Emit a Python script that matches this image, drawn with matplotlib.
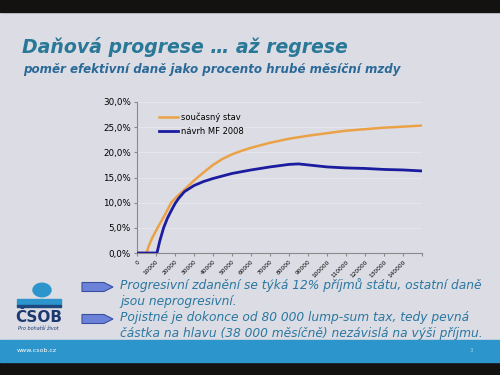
import numpy as np
import matplotlib
matplotlib.use('Agg')
import matplotlib.pyplot as plt
from matplotlib.patches import Rectangle, Polygon, Circle

# data
wage_now = [0, 5000, 6000, 8000, 10000, 12000, 15000, 18000, 21000, 25000, 30000,
            35000, 40000, 45000, 50000, 55000, 60000, 70000, 80000, 90000, 100000,
            110000, 120000, 130000, 140000, 150000]
tax_now = [0, 0, 1.2, 3.0, 4.4, 5.8, 7.8, 10.0, 11.2, 12.6, 14.4, 16.0, 17.5, 18.7,
           19.6, 20.3, 20.9, 21.9, 22.7, 23.3, 23.8, 24.3, 24.6, 24.9, 25.1, 25.3]

wage_mf = [0, 10500, 12000, 14000, 16000, 18000, 20000, 22000, 25000, 30000, 35000,
           40000, 50000, 60000, 70000, 80000, 85000, 90000, 100000, 110000, 120000,
           130000, 140000, 150000]
tax_mf = [0, 0, 2.4, 5.0, 6.9, 8.4, 9.8, 10.9, 12.2, 13.4, 14.2, 14.8, 15.8, 16.5,
          17.1, 17.6, 17.7, 17.5, 17.1, 16.9, 16.8, 16.6, 16.5, 16.3]

series_names = ['současný stav', 'návrh MF 2008']
y_ticks = [0, 5, 10, 15, 20, 25, 30]
x_ticks = list(range(0, 150001, 10000))
x_labels = [str(v) for v in x_ticks[:-1]] + ['']

title = 'Daňová progrese … až regrese'
subtitle = 'poměr efektivní daně jako procento hrubé měsíční mzdy'
bullets = [['Progresivní zdanění se týká 12% příjmů státu, ostatní daně',
            'jsou neprogresivní.'],
           ['Pojistné je dokonce od 80 000 lump-sum tax, tedy pevná',
            'částka na hlavu (38 000 měsíčně) nezávislá na výši příjmu.']]

W, H = 500, 375
def fx(px):
    return px / W
def fy(py):
    return 1 - py / H

fig = plt.figure(figsize=(5, 3.75), dpi=100, facecolor='#dcdce4')

# slide frame: black bands, blue footer
fig.patches.append(Rectangle((0, fy(12)), 1, 12 / H, transform=fig.transFigure,
                             color='#141210', zorder=0))
fig.patches.append(Rectangle((0, 0), 1, 13 / H, transform=fig.transFigure,
                             color='#141210', zorder=0))
fig.patches.append(Rectangle((0, fy(362)), 1, 22 / H, transform=fig.transFigure,
                             color='#2b95cc', zorder=0))
fig.text(fx(17), fy(351), 'www.csob.cz', color='white', fontsize=4.5, va='center')
fig.text(fx(470), fy(351), '3', color='#9ed0ea', fontsize=4, va='center')

fig.text(fx(22), fy(47), title, color='#2a7898', fontsize=13.6, fontweight='bold',
         style='italic', va='center')
fig.text(fx(23), fy(70), subtitle, color='#2a6a98', fontsize=8.6, fontweight='bold',
         style='italic', va='center')

# chart
ax = fig.add_axes([fx(137), fy(253), 285 / W, 151 / H])
ax.set_facecolor('#dcdce4')
ax.plot(wage_now, tax_now, color='#eba246', lw=1.8, label=series_names[0], zorder=3)
ax.plot(wage_mf, tax_mf, color='#1c1ca0', lw=2.0, label=series_names[1], zorder=4)
ax.set_xlim(0, 150000)
ax.set_ylim(0, 30)
ax.set_yticks(y_ticks)
ax.yaxis.set_major_formatter(plt.FuncFormatter(lambda v, p: ('%.1f%%' % v).replace('.', ',')))
ax.set_xticks(x_ticks)
ax.set_xticklabels(x_labels, rotation=45, ha='right', rotation_mode='anchor')
ax.tick_params(axis='x', labelsize=4.2, length=2.5, color='#8a8a8a', pad=2)
ax.tick_params(axis='y', labelsize=6.3, length=2.5, color='#8a8a8a', pad=2)
ax.grid(axis='y', color='#e5e5eb', lw=0.8)
ax.set_axisbelow(True)
for s in ['top', 'right']:
    ax.spines[s].set_visible(False)
for s in ['left', 'bottom']:
    ax.spines[s].set_color('#8a8a8a')
    ax.spines[s].set_linewidth(0.8)
ax.legend(loc='upper left', bbox_to_anchor=(0.05, 0.98), frameon=False, fontsize=6,
          handlelength=2.3, handletextpad=0.4, labelspacing=0.6)

# bullet arrows and text
for i, lines in enumerate(bullets):
    y0 = 287 + i * 32
    pts = [(82, y0 - 4.5), (104, y0 - 4.5), (113, y0), (104, y0 + 4.5), (82, y0 + 4.5)]
    fig.patches.append(Polygon([(fx(a), fy(b)) for a, b in pts], closed=True,
                               transform=fig.transFigure, facecolor='#6c82d8',
                               edgecolor='#3a4ea0', lw=0.8))
    for j, line in enumerate(lines):
        fig.text(fx(120), fy(y0 - 2 + j * 16), line, color='#2a78a0', fontsize=8.8,
                 style='italic', va='center')

# logo
fig.patches.append(Circle((fx(42), fy(290)), 9 / W, transform=fig.transFigure,
                          color='#2b95cc'))
fig.patches.append(Rectangle((fx(17), fy(305)), 44 / W, 6 / H, transform=fig.transFigure,
                             color='#2b95cc'))
fig.patches.append(Rectangle((fx(17), fy(307)), 44 / W, 2 / H, transform=fig.transFigure,
                             color='#1c4a80'))
fig.text(fx(39), fy(317), 'ČSOB', color='#1c3a70', fontsize=11, fontweight='bold',
         ha='center', va='center')
fig.text(fx(38), fy(328), 'Pro bohatší život', color='#1c3a70', fontsize=3.5,
         style='italic', ha='center', va='center')

fig.savefig('out.png', dpi=100, facecolor=fig.get_facecolor())
